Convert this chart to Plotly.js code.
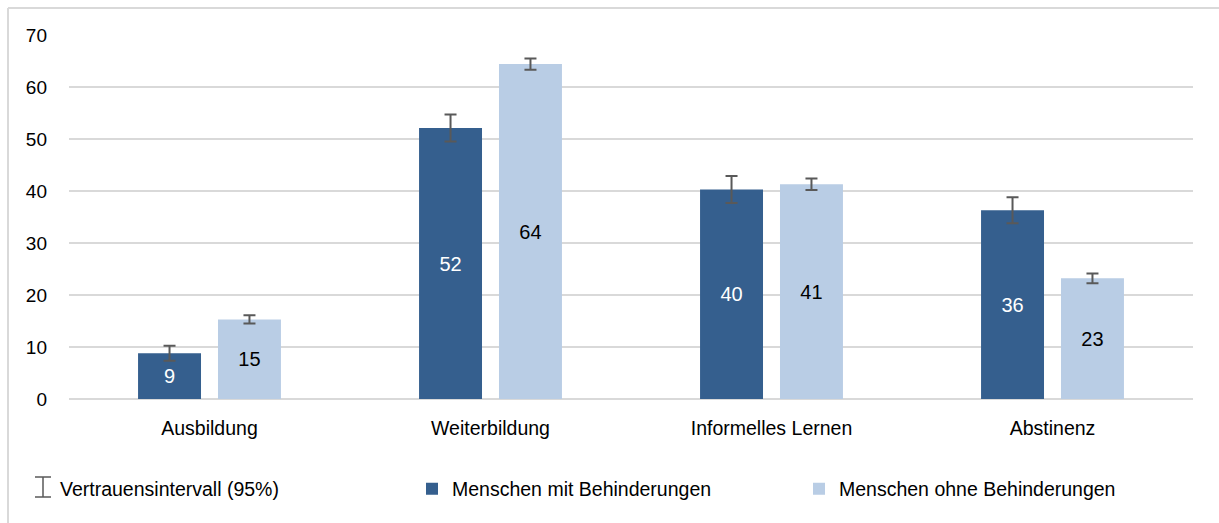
<!DOCTYPE html>
<html>
<head>
<meta charset="utf-8">
<script src="https://cdn.plot.ly/plotly-3.0.1.min.js"></script>
<style>html,body{margin:0;padding:0;background:#fff;}#chart{width:1219px;height:523px;}</style>
</head>
<body>
<div id="chart"></div>
<script>
// ---- data ----
const categories = ["Ausbildung", "Weiterbildung", "Informelles Lernen", "Abstinenz"];
const seriesNames = ["Menschen mit Behinderungen", "Menschen ohne Behinderungen"];
const withDisability = [8.8, 52.1, 40.3, 36.3];
const withDisabilityCI = [1.45, 2.6, 2.6, 2.5];
const withoutDisability = [15.3, 64.4, 41.3, 23.2];
const withoutDisabilityCI = [0.8, 1.1, 1.1, 0.95];
const ciLabel = "Vertrauensintervall (95%)";
const yTicks = [0, 10, 20, 30, 40, 50, 60, 70];

// ---- layout helpers ----
const W = 1219, H = 523;
const M = {l: 69, r: 26, t: 35, b: 124};
const PW = W - M.l - M.r, PH = H - M.t - M.b;
const px = x => (x - M.l) / PW;
const py = y => (H - M.b - y) / PH;

const FONT = '"Liberation Sans", Arial, sans-serif';
const DARK = '#355F8E';
const LIGHT = '#B9CDE5';
const ERR = '#595959';
const GRID = '#D9D9D9';

const traces = [
  {
    type: 'bar', name: seriesNames[0], x: categories, y: withDisability,
    text: withDisability.map(v => String(Math.round(v))),
    textposition: 'inside', insidetextanchor: 'middle', textangle: 0,
    constraintext: 'none',
    textfont: {family: FONT, size: 20, color: '#ffffff'},
    marker: {color: DARK},
    error_y: {type: 'data', array: withDisabilityCI, visible: true, color: ERR, thickness: 2, width: 6},
    hoverinfo: 'x+y'
  },
  {
    type: 'bar', name: seriesNames[1], x: categories, y: withoutDisability,
    text: withoutDisability.map(v => String(Math.round(v))),
    textposition: 'inside', insidetextanchor: 'middle', textangle: 0,
    constraintext: 'none',
    textfont: {family: FONT, size: 20, color: '#000000'},
    marker: {color: LIGHT},
    error_y: {type: 'data', array: withoutDisabilityCI, visible: true, color: ERR, thickness: 2, width: 6},
    hoverinfo: 'x+y'
  }
];

const lineShape = (x0, y0, x1, y1, color, w) => ({
  type: 'line', xref: 'paper', yref: 'paper',
  x0: px(x0), y0: py(y0), x1: px(x1), y1: py(y1),
  line: {color: color, width: w}
});

const layout = {
  width: W, height: H,
  margin: M,
  paper_bgcolor: '#ffffff', plot_bgcolor: '#ffffff',
  font: {family: FONT, size: 19, color: '#000000'},
  barmode: 'group',
  bargap: 0.431,
  bargroupgap: 0.2125,
  showlegend: true,
  legend: {
    orientation: 'h',
    x: px(412), xanchor: 'left',
    y: py(489), yanchor: 'middle',
    font: {family: FONT, size: 19.5, color: '#000000'},
    entrywidth: 342, entrywidthmode: 'pixels',
    bgcolor: 'rgba(0,0,0,0)'
  },
  xaxis: {
    type: 'category',
    showgrid: false, zeroline: false, showline: false,
    ticks: '', ticklabelstandoff: 15,
    tickfont: {family: FONT, size: 19.5, color: '#000000'},
    fixedrange: true
  },
  yaxis: {
    range: [0, 70],
    tickvals: yTicks,
    ticktext: yTicks.map(String),
    showgrid: true, gridcolor: GRID, gridwidth: 1.5,
    zeroline: true, zerolinecolor: GRID, zerolinewidth: 1.5,
    showline: false, ticks: '', ticklabelstandoff: 21,
    tickfont: {family: FONT, size: 19, color: '#000000'},
    fixedrange: true
  },
  shapes: [
    // outer frame (top and left visible)
    lineShape(8, 8, 1219, 8, GRID, 2),
    lineShape(8, 8, 8, 523, GRID, 2),
    // I-beam symbol for confidence interval legend entry
    lineShape(43, 477, 43, 497, ERR, 1.5),
    lineShape(35, 477, 51, 477, ERR, 1.5),
    lineShape(35, 497, 51, 497, ERR, 1.5)
  ],
  annotations: [
    {
      xref: 'paper', yref: 'paper', x: px(58), y: py(489),
      xanchor: 'left', yanchor: 'middle', showarrow: false,
      text: ciLabel,
      font: {family: FONT, size: 19.5, color: '#000000'}
    }
  ]
};

Plotly.newPlot('chart', traces, layout, {displayModeBar: false, staticPlot: true});
</script>
</body>
</html>
